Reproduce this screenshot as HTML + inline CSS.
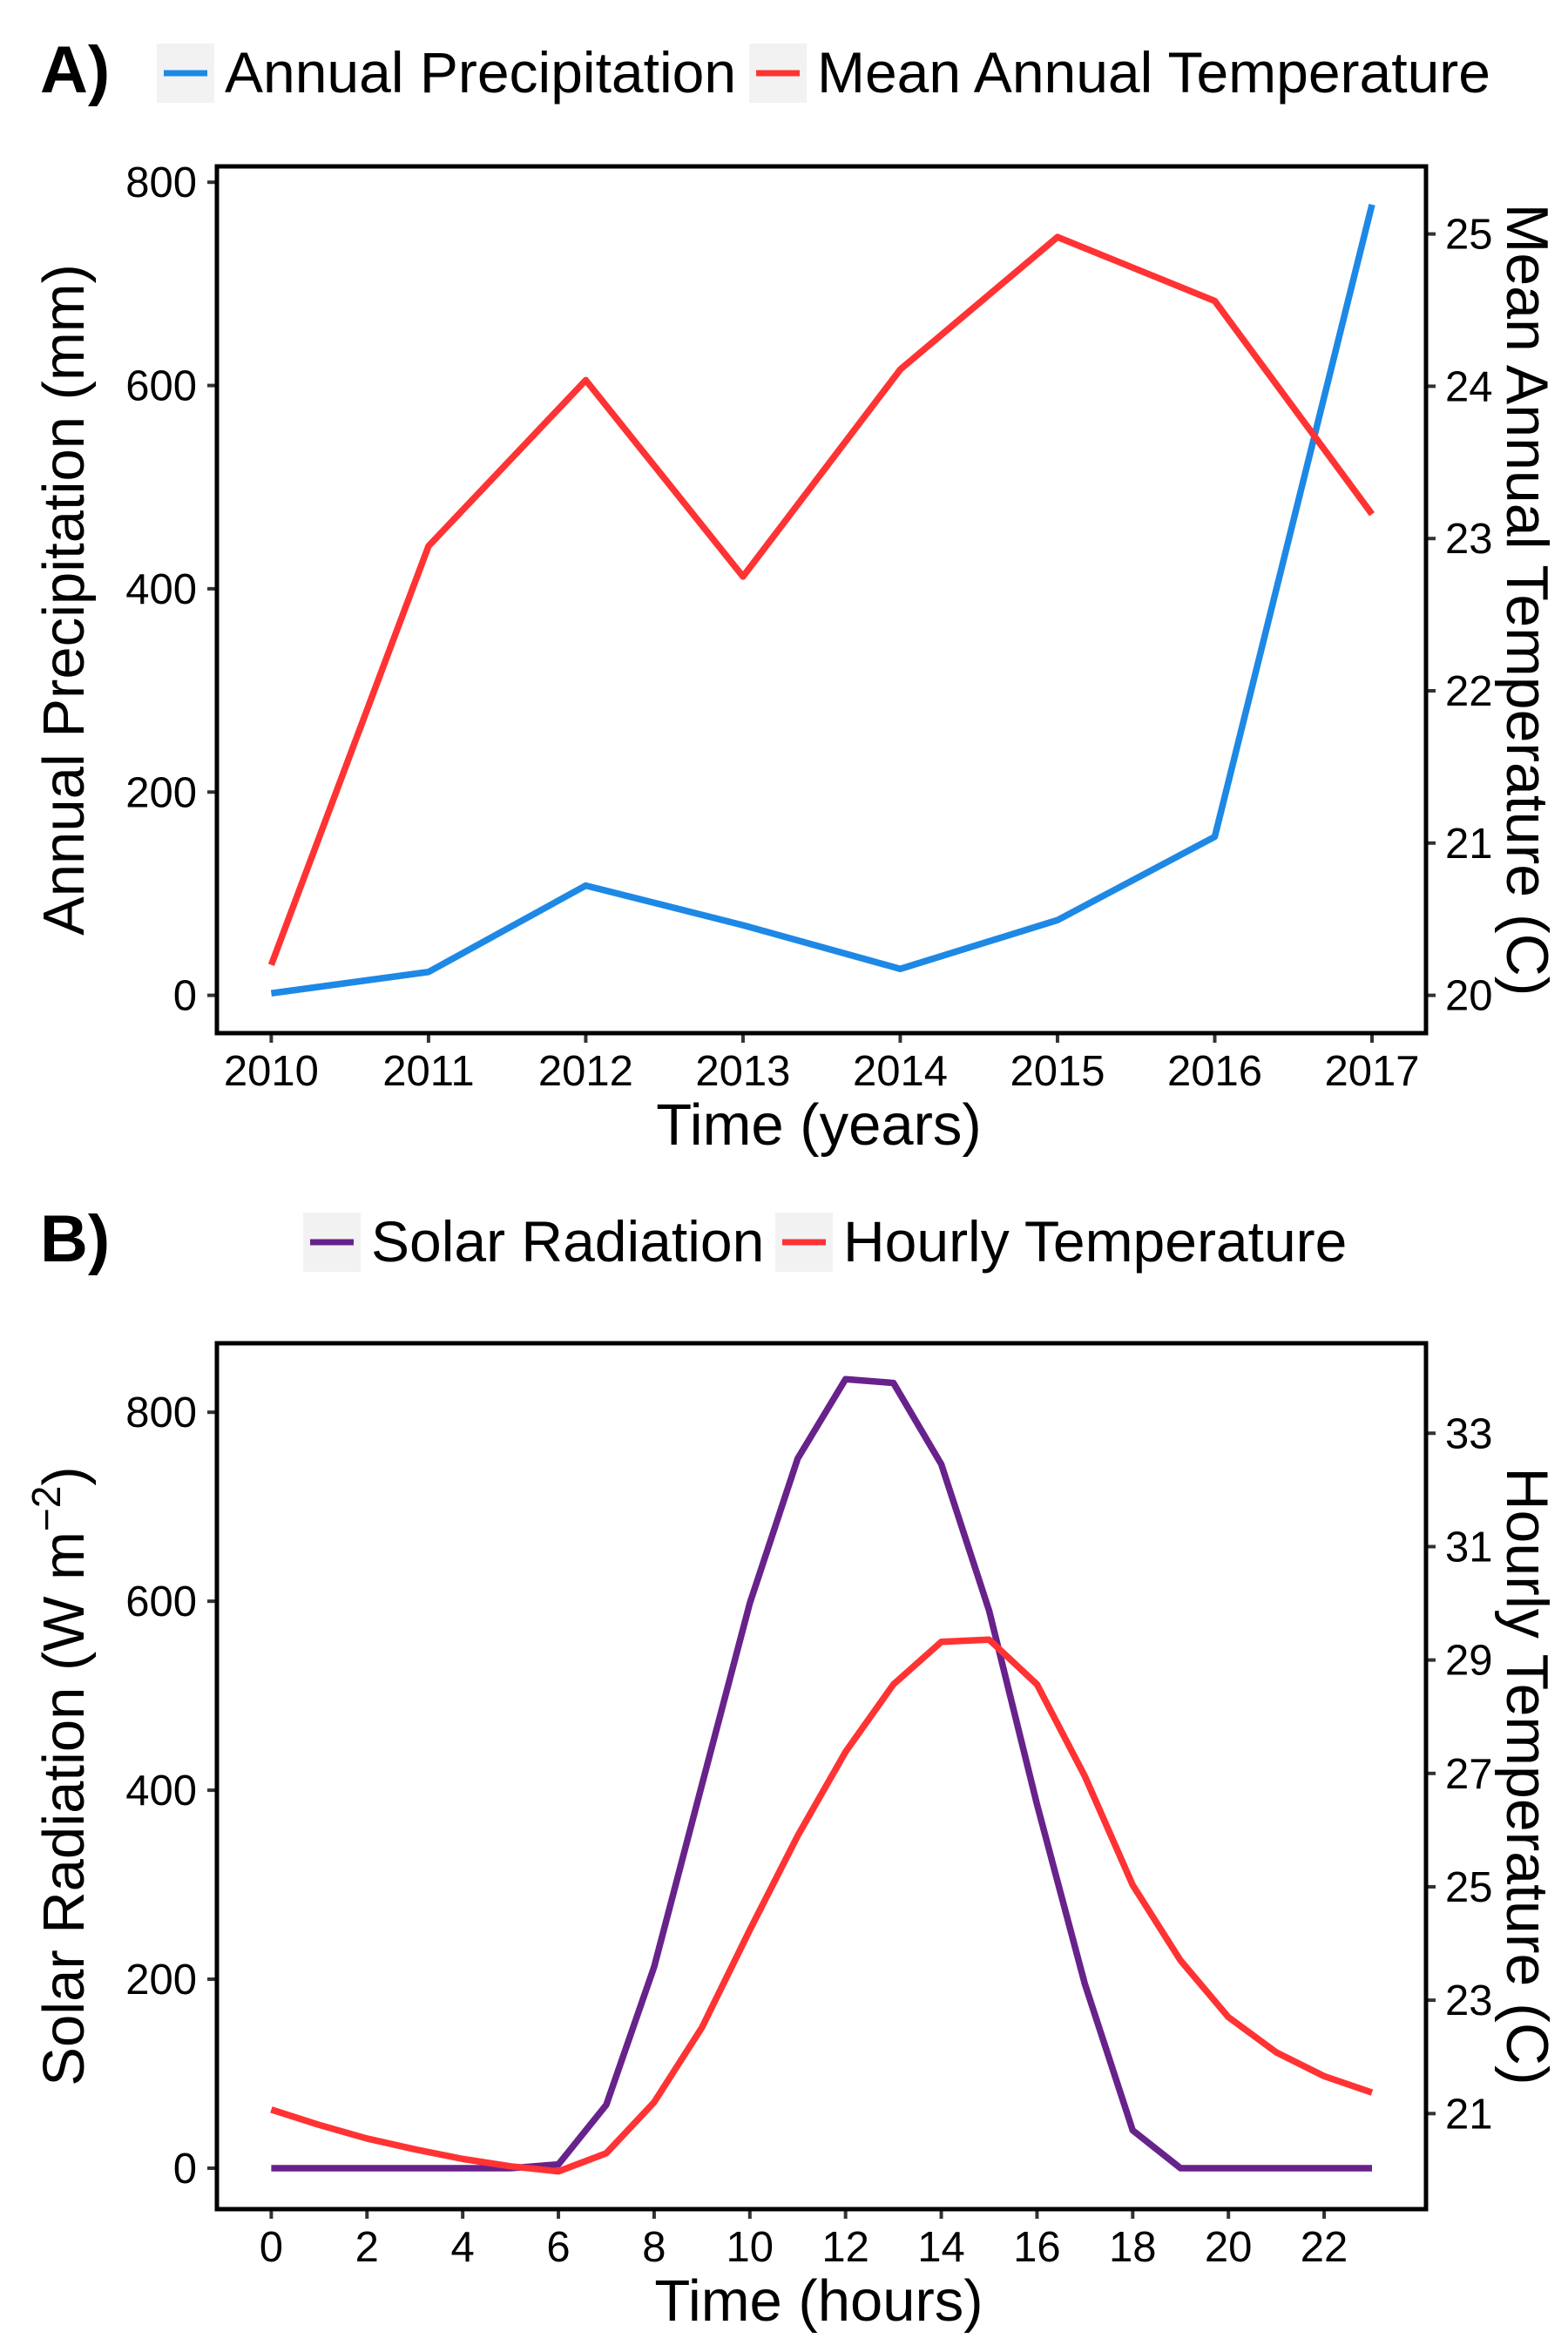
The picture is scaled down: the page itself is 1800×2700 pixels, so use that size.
<!DOCTYPE html>
<html><head><meta charset="utf-8"><style>
html,body{margin:0;padding:0;background:#fff;}
svg{display:block;font-family:"Liberation Sans",Arial,sans-serif;}
</style></head><body>
<svg id="fig" width="1800" height="2700" viewBox="0 0 1800 2700" xmlns="http://www.w3.org/2000/svg"></svg>
<script>
const yearsA = [2010,2011,2012,2013,2014,2015,2016,2017];
const precipA = [2,23,108,69,26,74,156,778];
const tempA = [20.2,22.95,24.04,22.75,24.11,24.98,24.56,23.16];
const leftTicksA = [0,200,400,600,800];
const rightTicksA = [20,21,22,23,24,25];

const hoursB = [0,1,2,3,4,5,6,7,8,9,10,11,12,13,14,15,16,17,18,19,20,21,22,23];
const solarB = [0,0,0,0,0,0,4,67,213,406,598,751,835,831,745,590,385,195,40,0,0,0,0,0];
const tempB = [21.07,20.8,20.56,20.37,20.2,20.07,19.98,20.3,21.2,22.52,24.24,25.9,27.38,28.57,29.32,29.36,28.57,26.95,25.03,23.7,22.7,22.08,21.66,21.37];
const xTicksB = [0,2,4,6,8,10,12,14,16,18,20,22];
const leftTicksB = [0,200,400,600,800];
const rightTicksB = [21,23,25,27,29,31,33];

const NS='http://www.w3.org/2000/svg';
const svg=document.getElementById('fig');
function el(tag,attrs,parent,text){const e=document.createElementNS(NS,tag);for(const k in attrs)e.setAttribute(k,attrs[k]);if(text!==undefined)e.textContent=text;(parent||svg).appendChild(e);return e;}
function lin(d0,d1,r0,r1){return v=>r0+(v-d0)*(r1-r0)/(d1-d0);}

function panel(cfg){
  const g=el('g',{});
  
  
  const L=249,R=1637,T=cfg.top,B=cfg.bottom;
  const lab=el('text',{x:46,y:cfg.legY,'font-size':76,'font-weight':'bold'},g,cfg.label);
  
  
  cfg.legend.forEach(le=>{
    const lg=el('g',{},g);
    
    
    el('rect',{x:le.kx,y:cfg.legY-56,width:66,height:68,fill:'#f2f2f2'},lg);
    el('line',{x1:le.kx+8,x2:le.kx+58,y1:cfg.legY-22,y2:cfg.legY-22,stroke:le.color,'stroke-width':7},lg);
    el('text',{x:le.kx+78,y:cfg.legY,'font-size':66},lg,le.text);
  });
  const xs=lin(cfg.xd[0],cfg.xd[1],311.4,1575);
  const yl=lin(cfg.yl[0],cfg.yl[1],cfg.yl[2],cfg.yl[3]);
  const yr=lin(cfg.yr[0],cfg.yr[1],cfg.yr[2],cfg.yr[3]);
  cfg.xt.forEach(v=>{
    el('line',{x1:xs(v),x2:xs(v),y1:B,y2:B+11,stroke:'#333','stroke-width':4},g);
    const t=el('text',{x:xs(v),y:B+60,'font-size':49,'text-anchor':'middle'},g,v);
    
    
  });
  cfg.lt.forEach(v=>{
    el('line',{x1:L-11,x2:L,y1:yl(v),y2:yl(v),stroke:'#333','stroke-width':4},g);
    const t=el('text',{x:226,y:yl(v)+17,'font-size':49,'text-anchor':'end'},g,v);
    
    
  });
  cfg.rt.forEach(v=>{
    el('line',{x1:R,x2:R+11,y1:yr(v),y2:yr(v),stroke:'#333','stroke-width':4},g);
    const t=el('text',{x:1659,y:yr(v)+17,'font-size':49},g,v);
    
    
  });
  const s1=el('polyline',{points:cfg.x.map((x,i)=>xs(x)+','+yl(cfg.s1[i])).join(' '),fill:'none',stroke:cfg.c1,'stroke-width':7.5,'stroke-linejoin':'round'},g);
  
  
  const s2=el('polyline',{points:cfg.x.map((x,i)=>xs(x)+','+yr(cfg.s2[i])).join(' '),fill:'none',stroke:cfg.c2,'stroke-width':7.5,'stroke-linejoin':'round'},g);
  
  
  const box=el('rect',{x:L,y:T,width:R-L,height:B-T,fill:'none',stroke:'#000','stroke-width':5},g);
  
  
  const xt=el('text',{x:940,y:B+128,'font-size':67,'text-anchor':'middle'},g,cfg.xtitle);
  
  
  const mid=(T+B)/2;
  const lt=el('text',{x:0,y:0,'font-size':67,'text-anchor':'middle',transform:`translate(96,${mid}) rotate(-90)`},g);
  
  
  if(cfg.sup){
    el('tspan',{},lt,cfg.ltitle);
    el('tspan',{dy:-27,'font-size':46},lt,'\u22122');
    el('tspan',{dy:27},lt,')');
  } else lt.textContent=cfg.ltitle;
  const rtt=el('text',{x:0,y:0,'font-size':68,'text-anchor':'middle',transform:`translate(1730,${mid}) rotate(90)`},g,cfg.rtitle);
  
  
}

panel({name:'panel-a',label:'A)',legY:106,top:191,bottom:1186,
  legend:[{kx:180,color:'#1e88e5',text:'Annual Precipitation'},{kx:860,color:'#ff3333',text:'Mean Annual Temperature'}],
  xd:[2010,2017],yl:[0,800,1142.6,209.2],yr:[20,25,1142.6,268.6],
  xt:yearsA,lt:leftTicksA,rt:rightTicksA,x:yearsA,s1:precipA,s2:tempA,
  c1:'#1e88e5',c2:'#ff3333',n1:'precipitation-line',n2:'temperature-line',
  xtitle:'Time (years)',ltitle:'Annual Precipitation (mm)',rtitle:'Mean Annual Temperature (C)'});

panel({name:'panel-b',label:'B)',legY:1448,top:1542,bottom:2536,
  legend:[{kx:348,color:'#68228b',text:'Solar Radiation'},{kx:890,color:'#ff3333',text:'Hourly Temperature'}],
  xd:[0,23],yl:[0,800,2489,1621.2],yr:[21,33,2426.3,1645.3],
  xt:xTicksB,lt:leftTicksB,rt:rightTicksB,x:hoursB,s1:solarB,s2:tempB,
  c1:'#68228b',c2:'#ff3333',n1:'solar-radiation-line',n2:'hourly-temperature-line',
  xtitle:'Time (hours)',ltitle:'Solar Radiation (W m',sup:true,rtitle:'Hourly Temperature (C)'});
</script>
</body></html>
